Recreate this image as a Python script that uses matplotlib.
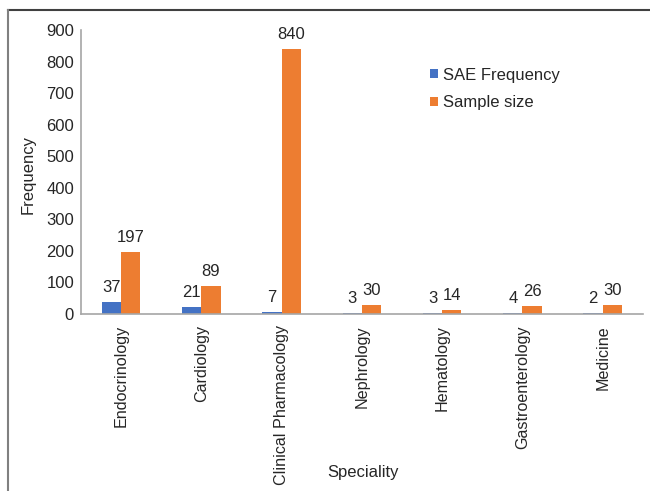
import matplotlib.pyplot as plt
from matplotlib.lines import Line2D
import numpy as np

plt.rcParams['font.family'] = ['Liberation Sans', 'DejaVu Sans']

specialities = ['Endocrinology', 'Cardiology', 'Clinical Pharmacology', 'Nephrology',
                'Hematology', 'Gastroenterology', 'Medicine']
sae_frequency = [37, 21, 7, 3, 3, 4, 2]
sample_size = [197, 89, 840, 30, 14, 26, 30]

blue = '#4472C4'
orange = '#ED7D31'
text_color = '#262626'
fs = 12

fig = plt.figure(figsize=(6.5, 4.91), dpi=100)
ax = fig.add_axes([0.1246, 0.3605, 0.8644, 0.5785])

x = np.arange(len(specialities))
w = 0.24
b1 = ax.bar(x - w / 2, sae_frequency, w, color=blue, label='SAE Frequency')
b2 = ax.bar(x + w / 2, sample_size, w, color=orange, label='Sample size')

for bars, vals in ((b1, sae_frequency), (b2, sample_size)):
    for bar, v in zip(bars, vals):
        ax.annotate(str(v), (bar.get_x() + bar.get_width() / 2, v),
                    xytext=(0, 5), textcoords='offset points',
                    ha='center', va='bottom', fontsize=fs, color=text_color)

ax.set_xlim(-0.5, len(specialities) - 0.5)
ax.set_ylim(0, 900)
ax.set_yticks(range(0, 901, 100))
ax.set_xticks(x)
ax.set_xticklabels(specialities, rotation=90, fontsize=11.6, color=text_color)
ax.tick_params(axis='y', labelsize=fs, labelcolor=text_color, length=0, pad=5)
ax.tick_params(axis='x', length=0, pad=8)

for side in ('top', 'right'):
    ax.spines[side].set_visible(False)
for side in ('left', 'bottom'):
    ax.spines[side].set_color('#A6A6A6')
    ax.spines[side].set_linewidth(1.2)

fig.text(363 / 650, 1 - 473 / 491, 'Speciality', ha='center', va='center',
         fontsize=fs, color=text_color)
fig.text(28 / 650, 1 - 174 / 491, 'Frequency', ha='center', va='center',
         rotation=90, fontsize=fs, color=text_color)

ax.legend(loc='center left', bbox_to_anchor=(0.607, 0.792), frameon=False, fontsize=fs,
          handlelength=0.45, handleheight=0.45, handletextpad=0.3, labelspacing=0.75,
          borderpad=0, labelcolor=text_color)

# outer border (top and left edges visible)
fig.add_artist(Line2D([8 / 650, 1], [1 - 10 / 491] * 2, color='#404040', lw=1.5,
                      transform=fig.transFigure))
fig.add_artist(Line2D([8 / 650] * 2, [0, 1 - 10 / 491], color='#808080', lw=1.5,
                      transform=fig.transFigure))

fig.savefig('out.png', dpi=100)
